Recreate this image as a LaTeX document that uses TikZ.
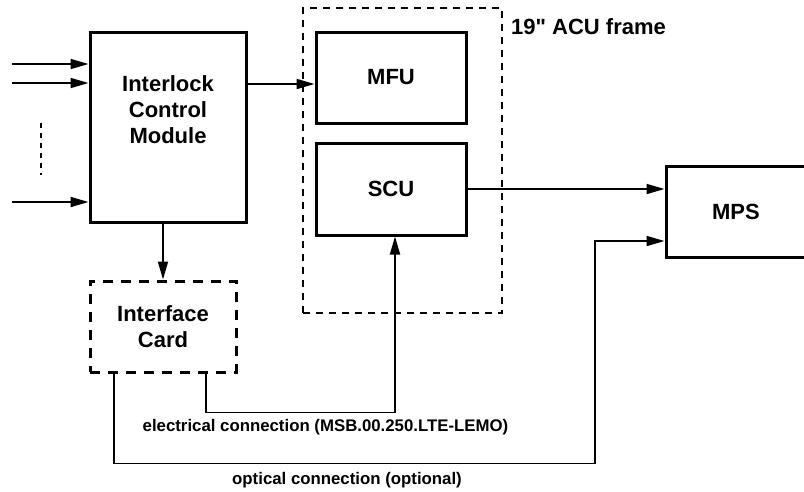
\documentclass[tikz,border=0pt]{standalone}
\usepackage{fontspec}
\setmainfont{Liberation Sans}
\newfontfamily\plainqfont{Liberation Sans}[Ligatures=TeXOff]
\usetikzlibrary{arrows.meta}
\begin{document}
\begin{tikzpicture}[x=1pt,y=-1pt,
  box/.style={draw,line width=3pt,minimum width=#1,inner sep=0pt},
  boxtxt/.style={font=\bfseries\fontsize{22}{26}\selectfont,align=center,inner sep=0pt},
  arr/.style={line width=1.8pt,-{Triangle[length=18pt,width=10pt]}},
  lbl/.style={font=\bfseries\fontsize{16.8}{20}\selectfont,inner sep=0pt}]
\useasboundingbox (0,0) rectangle (804,491);
% boxes
\node[box=156pt,minimum height=190pt] (icm) at (168,127) {};
\node[boxtxt] (icmtxt) at (168,110) {Interlock\\Control\\Module};
\node[draw,line width=1.8pt,dash pattern=on 7pt off 6pt,minimum width=199pt,minimum height=305pt,inner sep=0pt] (acu) at (402.5,160.5) {};
\node[boxtxt,anchor=west,font=\plainqfont\bfseries\fontsize{22}{26}\selectfont] (acutxt) at (511,27) {19" ACU frame};
\node[box=150pt,minimum height=91pt,boxtxt,draw,line width=3pt] (mfu) at (391,77.5) {MFU};
\node[box=150pt,minimum height=92pt,boxtxt,draw,line width=3pt] (scu) at (391,189) {SCU};
\node[box=140pt,minimum height=91pt,boxtxt,draw,line width=3pt] (mps) at (736,211.5) {MPS};
\node[draw,line width=3pt,dash pattern=on 10pt off 8pt,minimum width=146pt,minimum height=91pt,boxtxt] (iface) at (163,326.5) {Interface\\Card};
% inputs
\coordinate (in1) at (12,64);
\coordinate (in2) at (12,83);
\coordinate (in3) at (12,202);
\draw[arr] (in1) -- (in1 -| icm.west);
\draw[arr] (in2) -- (in2 -| icm.west);
\draw[arr] (in3) -- (in3 -| icm.west);
\coordinate (d1) at (41,123);
\coordinate (d2) at (41,175);
\draw[line width=2.2pt,dash pattern=on 5pt off 5pt] (d1) -- (d2);
% connectors
\coordinate (mfuin) at ([yshift=-6.5pt]mfu.west);
\draw[arr] (icm.east |- mfuin) -- (mfuin);
\draw[arr] (iface.north |- icm.south) -- (iface.north);
\draw[arr] (scu.east) -- (scu.east -| mps.west);
\draw[arr] ([xshift=43pt]iface.south) -- ++(0,39) -| ([xshift=4pt]scu.south);
\coordinate (optv) at (595,241);
\draw[arr] ([xshift=-49pt]iface.south) -- ++(0,90) -| (optv) -- (optv -| mps.west);
% labels
\node[lbl] (elbl) at (325.5,427) {electrical connection (MSB.00.250.LTE-LEMO)};
\node[lbl] (olbl) at (347,480) {optical connection (optional)};
\end{tikzpicture}
\end{document}
